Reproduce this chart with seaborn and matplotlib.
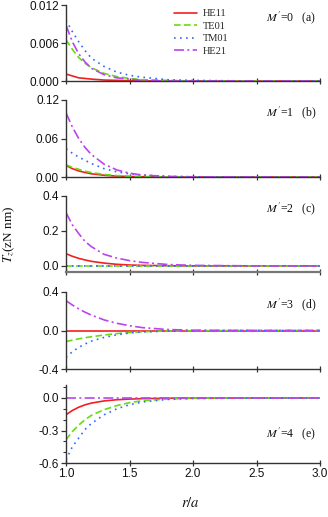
import numpy as np
import pandas as pd
import matplotlib
matplotlib.use("Agg")
import matplotlib.pyplot as plt
from matplotlib.ticker import FixedLocator
import seaborn as sns

sns.set_theme(style="ticks")
plt.rcParams['font.family'] = ['Liberation Sans', 'DejaVu Sans']
plt.rcParams['mathtext.fontset'] = 'stix'

# ---- data ----
r = [1.0, 1.05, 1.1, 1.15, 1.2, 1.3, 1.4, 1.5, 1.6, 1.8, 2.0, 2.5, 3.0]
modes = ["HE11", "TE01", "TM01", "HE21"]

# panel (a) M'=0
a_HE11 = [0.0011, 0.0008, 0.0005, 0.0004, 0.0003, 0.00015, 0.0001, 0.00005, 0.00002, 0.0, 0.0, 0.0, 0.0]
a_TE01 = [0.0065, 0.0050, 0.0037, 0.0028, 0.0021, 0.0012, 0.0007, 0.0004, 0.0002, 0.0001, 0.0, 0.0, 0.0]
a_TM01 = [0.0096, 0.0078, 0.0062, 0.0048, 0.0036, 0.0023, 0.0014, 0.0009, 0.0006, 0.0002, 0.0001, 0.0, 0.0]
a_HE21 = [0.0088, 0.0062, 0.0043, 0.0030, 0.0020, 0.0010, 0.0005, 0.0003, 0.0001, 0.0, 0.0, 0.0, 0.0]
# panel (b) M'=1
b_HE11 = [0.018, 0.013, 0.0095, 0.007, 0.005, 0.0027, 0.0014, 0.0007, 0.0004, 0.0001, 0.0, 0.0, 0.0]
b_TE01 = [0.019, 0.015, 0.012, 0.009, 0.007, 0.004, 0.0022, 0.0012, 0.0006, 0.0002, 0.0, 0.0, 0.0]
b_TM01 = [0.044, 0.037, 0.031, 0.026, 0.021, 0.013, 0.008, 0.005, 0.003, 0.001, 0.0003, 0.0, 0.0]
b_HE21 = [0.100, 0.078, 0.060, 0.046, 0.035, 0.020, 0.011, 0.006, 0.003, 0.001, 0.0003, 0.0, 0.0]
# panel (c) M'=2
c_HE11 = [0.070, 0.055, 0.043, 0.034, 0.026, 0.016, 0.009, 0.005, 0.003, 0.001, 0.0, 0.0, 0.0]
c_TE01 = [0.0] * 13
c_TM01 = [0.0] * 13
c_HE21 = [0.305, 0.235, 0.185, 0.140, 0.110, 0.066, 0.045, 0.030, 0.020, 0.008, 0.003, 0.0, 0.0]
# panel (d) M'=3
d_HE11 = [0.0] * 13
d_TE01 = [-0.115, -0.10, -0.087, -0.075, -0.065, -0.047, -0.032, -0.021, -0.013, -0.005, -0.002, 0.0, 0.0]
d_TM01 = [-0.28, -0.22, -0.175, -0.14, -0.11, -0.072, -0.045, -0.026, -0.015, -0.005, -0.002, 0.0, 0.0]
d_HE21 = [0.31, 0.265, 0.225, 0.19, 0.16, 0.11, 0.075, 0.05, 0.03, 0.01, 0.003, 0.0, 0.0]
# panel (e) M'=4
e_HE11 = [-0.155, -0.115, -0.085, -0.063, -0.047, -0.027, -0.016, -0.010, -0.006, -0.002, -0.001, 0.0, 0.0]
e_TE01 = [-0.385, -0.31, -0.25, -0.20, -0.16, -0.108, -0.07, -0.043, -0.025, -0.009, -0.003, 0.0, 0.0]
e_TM01 = [-0.57, -0.45, -0.37, -0.29, -0.235, -0.155, -0.10, -0.062, -0.037, -0.013, -0.005, 0.0, 0.0]
e_HE21 = [0.0] * 13

panels = [
    ("0", "(a)", [a_HE11, a_TE01, a_TM01, a_HE21]),
    ("1", "(b)", [b_HE11, b_TE01, b_TM01, b_HE21]),
    ("2", "(c)", [c_HE11, c_TE01, c_TM01, c_HE21]),
    ("3", "(d)", [d_HE11, d_TE01, d_TM01, d_HE21]),
    ("4", "(e)", [e_HE11, e_TE01, e_TM01, e_HE21]),
]
yticks = [[0.0, 0.006, 0.012], [0.0, 0.06, 0.12], [0.0, 0.2, 0.4], [-0.4, 0.0, 0.4], [-0.6, -0.3, 0.0]]
ytick_labels = [["0.000", "0.006", "0.012"], ["0.00", "0.06", "0.12"], ["0.0", "0.2", "0.4"],
                ["-0.4", "0.0", "0.4"], ["-0.6", "-0.3", "0.0"]]
ylims = [(0.0, 0.012), (0.0, 0.12), (-0.035, 0.4), (-0.4, 0.4), (-0.6, 0.12)]
xticks = [1.0, 1.5, 2.0, 2.5, 3.0]

colors = {"HE11": "#f22020", "TE01": "#66dd11", "TM01": "#3366ff", "HE21": "#bb44ee"}
dashes = {"HE11": (None, None), "TE01": (0, (4, 2)), "TM01": (0, (1, 2.6)), "HE21": (0, (6, 2, 1.2, 2))}

W, H = 328, 517
fig = plt.figure(figsize=(W / 100, H / 100), dpi=100)
boxes = [(5, 81), (100, 177), (196, 272), (292, 369), (385, 463)]
left, right = 66, 320
serif = ['Liberation Serif', 'DejaVu Serif']

axes = []
for i, ((mval, tag, series), (t, b)) in enumerate(zip(panels, boxes)):
    ax = fig.add_axes([left / W, 1 - b / H, (right - left) / W, (b - t) / H])
    axes.append(ax)
    df = pd.DataFrame({"r": np.tile(r, 4), "T": np.concatenate(series),
                       "mode": np.repeat(modes, len(r))})
    for m in modes:
        sub = df[df["mode"] == m]
        kw = {}
        if dashes[m][0] is not None:
            kw["linestyle"] = dashes[m]
        sns.lineplot(data=sub, x="r", y="T", ax=ax, color=colors[m], lw=1.2,
                     label=m if i == 0 else None, legend=False, **kw)
    ax.set_xlim(1.0, 3.0)
    ax.set_ylim(*ylims[i])
    ax.set_yticks(yticks[i])
    ax.set_yticklabels(ytick_labels[i])
    ax.set_xticks(xticks)
    if i == 4:
        ax.set_xticklabels(["1.0", "1.5", "2.0", "2.5", "3.0"])
        ax.yaxis.set_minor_locator(FixedLocator([-0.5, -0.4, -0.2, -0.1, 0.1]))
        ax.tick_params(axis='y', which='minor', length=2, width=0.8, color='#333333')
    else:
        ax.set_xticklabels([])
    ax.set_xlabel("")
    ax.set_ylabel("")
    for s in ["top", "right"]:
        ax.spines[s].set_visible(False)
    for s in ["left", "bottom"]:
        ax.spines[s].set_color("#333333")
        ax.spines[s].set_linewidth(1.0)
    if i == 2:
        ax.spines["bottom"].set_color("#777777")
        ax.spines["bottom"].set_linewidth(1.6)
    ax.tick_params(axis='y', which='major', length=3.5, width=0.9, color='#333333',
                   labelsize=8.5, pad=1.5, direction='out', labelcolor='#111111')
    ax.tick_params(axis='x', which='major', length=4, width=0.9, color='#333333',
                   labelsize=8.5, pad=1.5, direction='inout', labelcolor='#111111')
    ypos = 0.38 if i == 4 else 0.84
    ax.text(0.985, ypos, r"$M'$=" + mval + "   " + tag, transform=ax.transAxes,
            ha='right', va='center', fontsize=8.5, family=serif, color='#111111')
    ax.patch.set_alpha(0)

leg = axes[0].legend(loc='upper left', bbox_to_anchor=(0.41, 1.0), frameon=False,
                     handlelength=2.2, handletextpad=0.5,
                     labelspacing=0.3, borderaxespad=0.0, prop={'family': serif, 'size': 7.5})

fig.text(0.03, 1 - 234 / H, r"$T_z$(zN nm)", rotation=90, ha='center', va='center',
         fontsize=9.5, family=serif, color='#111111')
fig.text(0.58, 1 - 503 / H, r"$r/a$", ha='center', va='center', fontsize=10.5, family=serif,
         color='#111111')

fig.savefig("out.png", dpi=100)
